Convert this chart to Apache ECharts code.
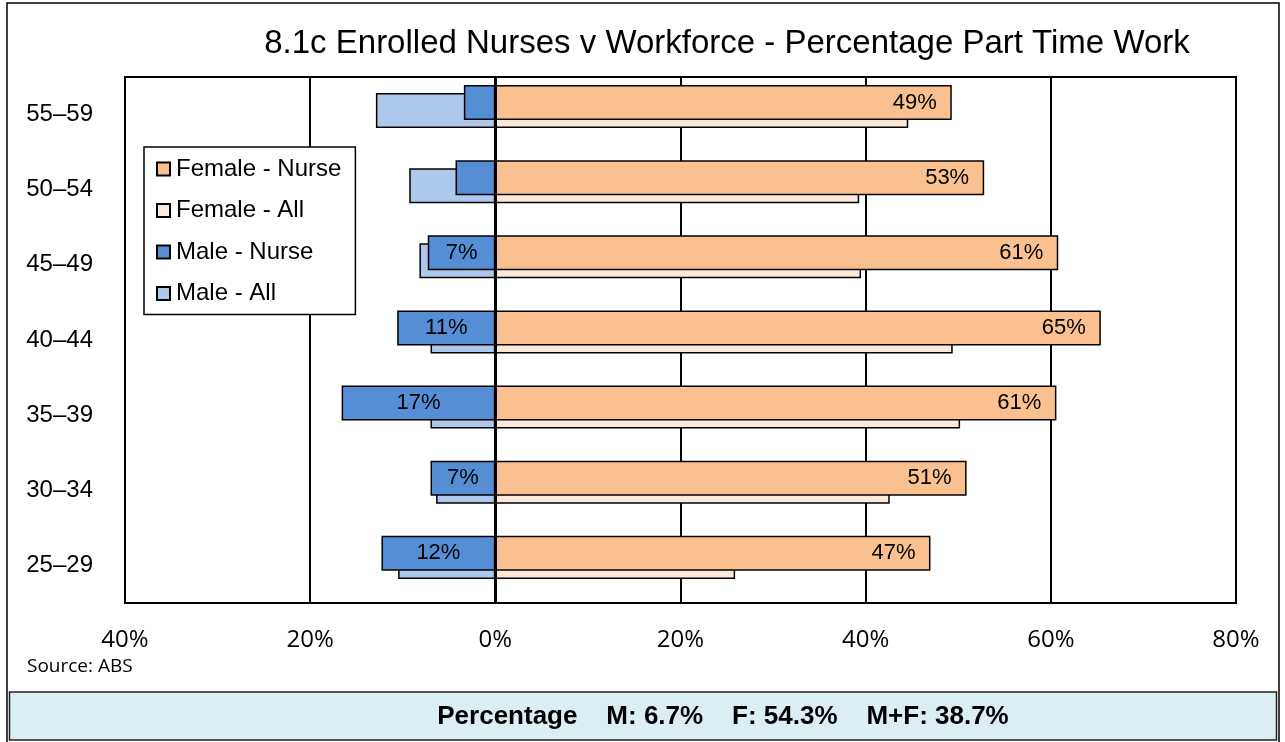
<!DOCTYPE html>
<html>
<head>
<meta charset="utf-8">
<script src="https://cdn.jsdelivr.net/npm/echarts@6/dist/echarts.min.js"></script>
<style>
  html, body { margin: 0; padding: 0; background: #fff; }
  #chart { width: 1285px; height: 742px; }
</style>
</head>
<body>
<div id="chart"></div>
<script>
var ageGroups = ['25–29', '30–34', '35–39', '40–44', '45–49', '50–54', '55–59']
var femaleNurse = [47.0, 50.9, 60.6, 65.4, 60.8, 52.8, 49.3]
var femaleAll = [25.9, 42.6, 50.2, 49.4, 39.5, 39.3, 44.6]
var maleNurse = [12.3, 7.0, 16.6, 10.6, 7.3, 4.3, 3.4]
var maleAll = [10.5, 6.4, 7.0, 7.0, 8.2, 9.3, 12.9]
var xTicks = [-40, -20, 0, 20, 40, 60, 80]
var summaryText = 'Percentage    M: 6.7%    F: 54.3%    M+F: 38.7%'

var arial = '"Liberation Sans", Arial, sans-serif'
var calibriLike = '"Open Sans", sans-serif'

function negate(arr) {
    return arr.map(function (v) { return -v })
}

function pctLabel(p) {
    var v = Math.abs(p.value)
    if (v < 5) { return '' }
    return Math.round(v) + '%'
}

function barSeries(name, data, stack, color, z, label) {
    return {
        name: name,
        type: 'bar',
        stack: stack,
        data: data,
        z: z,
        barWidth: 35,
        barGap: '-77%',
        itemStyle: { color: color, borderColor: '#000', borderWidth: 1.5 },
        label: label || { show: false },
        emphasis: { disabled: true }
    }
}

function makeGraph() {
    var chart = echarts.init(document.getElementById('chart'))

    var series = [
        barSeries('Male - Nurse', negate(maleNurse), 'nurse', '#558ED5', 4, {
            show: true, position: 'inside', color: '#000',
            fontFamily: arial, fontSize: 22, formatter: pctLabel
        }),
        barSeries('Female - Nurse', femaleNurse, 'nurse', '#FAC090', 4, {
            show: true, position: 'insideRight', distance: 15, color: '#000',
            fontFamily: arial, fontSize: 22, formatter: pctLabel
        }),
        barSeries('Male - All', negate(maleAll), 'all', '#ADC8EC', 3),
        barSeries('Female - All', femaleAll, 'all', '#FDE9D9', 3),
        // empty slots so the pair sits above the band centre like the original
        barSeries('pad1', [], 'pad1', '#fff', 1),
        barSeries('pad2', [], 'pad2', '#fff', 1)
    ]

    series[1].markLine = {
        silent: true,
        symbol: 'none',
        label: { show: false },
        lineStyle: { color: '#000', width: 3, type: 'solid' },
        data: [{ xAxis: 0 }]
    }

    var option = {
        animation: false,
        backgroundColor: '#fff',
        title: {
            text: '8.1c Enrolled Nurses v Workforce - Percentage Part Time Work',
            left: 722,
            top: 22,
            textAlign: 'center',
            textStyle: { fontFamily: arial, fontSize: 33, fontWeight: 'normal', color: '#000' }
        },
        legend: {
            data: ['Female - Nurse', 'Female - All', 'Male - Nurse', 'Male - All'],
            orient: 'vertical',
            icon: 'rect',
            left: 144,
            top: 147,
            padding: [10, 14, 9, 12],
            itemWidth: 13,
            itemHeight: 13,
            itemGap: 17.5,
            backgroundColor: '#fff',
            borderColor: '#000',
            borderWidth: 1.5,
            selectedMode: false,
            textStyle: { fontFamily: arial, fontSize: 24, color: '#000', lineHeight: 24, padding: [0, 0, 0, 1] }
        },
        grid: {
            left: 125,
            right: 49,
            top: 77,
            bottom: 139,
            show: true,
            borderColor: '#000',
            borderWidth: 2,
            backgroundColor: 'transparent'
        },
        xAxis: {
            type: 'value',
            min: xTicks[0],
            max: xTicks[xTicks.length - 1],
            interval: 20,
            axisLine: { show: false },
            axisTick: { show: false },
            splitLine: { show: true, lineStyle: { color: '#000', width: 2 } },
            axisLabel: {
                margin: 25,
                color: '#000',
                fontFamily: calibriLike,
                fontSize: 24,
                formatter: function (v) { return Math.abs(v) + '%' }
            }
        },
        yAxis: {
            type: 'category',
            data: ageGroups,
            axisLine: { show: false },
            axisTick: { show: false },
            splitLine: { show: false },
            axisLabel: { margin: 32, color: '#000', fontFamily: arial, fontSize: 24 }
        },
        graphic: [
            {
                type: 'rect',
                shape: { x: 7, y: 3, width: 1272, height: 745 },
                style: { fill: 'none', stroke: '#000', lineWidth: 1.5 },
                z: -10
            },
            {
                type: 'text',
                left: 27,
                top: 657,
                style: { text: 'Source: ABS', fontFamily: calibriLike, fontSize: 19, fill: '#000' }
            },
            {
                type: 'rect',
                shape: { x: 9.5, y: 692, width: 1267, height: 48 },
                style: { fill: '#DAEEF3', stroke: '#222', lineWidth: 1.5 }
            },
            {
                type: 'text',
                x: 723,
                y: 717,
                style: {
                    text: summaryText, fontFamily: arial, fontSize: 26, fontWeight: 'bold',
                    fill: '#000', align: 'center', verticalAlign: 'middle'
                }
            }
        ],
        series: series
    }
    chart.setOption(option)
}

makeGraph()
</script>
</body>
</html>
